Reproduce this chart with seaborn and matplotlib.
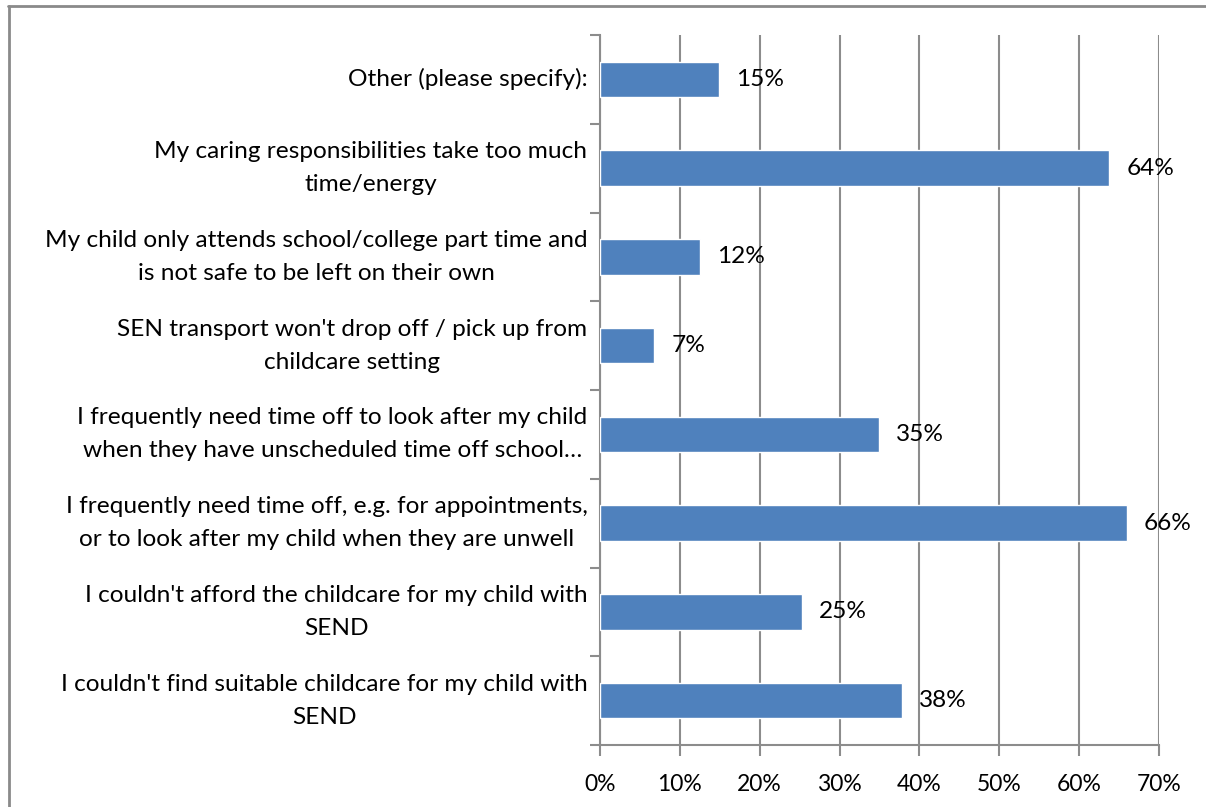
import matplotlib
matplotlib.use("Agg")
import matplotlib.pyplot as plt
from matplotlib.lines import Line2D
import seaborn as sns
import pandas as pd
import numpy as np

categories = [
    "Other (please specify):",
    "My caring responsibilities take too much\ntime/energy",
    "My child only attends school/college part time and\nis not safe to be left on their own",
    "SEN transport won't drop off / pick up from\nchildcare setting",
    "I frequently need time off to look after my child\nwhen they have unscheduled time off school…",
    "I frequently need time off, e.g. for appointments,\nor to look after my child when they are unwell",
    "I couldn't afford the childcare for my child with\nSEND",
    "I couldn't find suitable childcare for my child with\nSEND",
]
shares = [0.149, 0.638, 0.125, 0.068, 0.349, 0.660, 0.253, 0.378]
value_labels = ["15%", "64%", "12%", "7%", "35%", "66%", "25%", "38%"]
x_ticks = [0.0, 0.1, 0.2, 0.3, 0.4, 0.5, 0.6, 0.7]
x_tick_labels = ["0%", "10%", "20%", "30%", "40%", "50%", "60%", "70%"]

sns.set_theme(style="white")
plt.rcParams["font.family"] = ["Lato", "DejaVu Sans"]

bar_color = "#4F81BD"
grid_color = "#8C8C8C"
text_size = 17.6

df = pd.DataFrame({"reason": categories, "share": shares})

fig = plt.figure(figsize=(12.06, 8.07), dpi=100)
ax = fig.add_axes([600 / 1206, 1 - 745 / 807, 559 / 1206, 710 / 807])

sns.barplot(data=df, y="reason", x="share", orient="h", color=bar_color,
            saturation=1, width=0.4, ax=ax, zorder=3)

ax.set_xlim(0, 0.7)
ax.set_ylim(len(categories) - 0.5, -0.5)
ax.set_xticks(x_ticks)
ax.set_xticklabels(x_tick_labels, fontsize=16.5, color="black")
ax.set_xlabel("")
ax.set_ylabel("")

ax.set_yticks(range(len(categories)))
ax.set_yticklabels(categories, fontsize=text_size, color="black", linespacing=1.7)
for t in ax.get_yticklabels():
    t.set_multialignment("center")
    t.set_verticalalignment("center")
ax.set_yticks(np.arange(-0.5, len(categories), 1.0), minor=True)
ax.tick_params(axis="y", which="major", length=0, pad=9)
ax.tick_params(axis="y", which="minor", length=7, width=1.5, color=grid_color, left=True)
ax.tick_params(axis="x", which="major", length=8, width=1.5, color=grid_color,
               bottom=True, pad=13)

ax.xaxis.grid(True, color=grid_color, linewidth=1.5, zorder=0)
ax.yaxis.grid(False)
for side in ["top", "right"]:
    ax.spines[side].set_visible(False)
for side in ["left", "bottom"]:
    ax.spines[side].set_color(grid_color)
    ax.spines[side].set_linewidth(1.5)

for i, (v, lab) in enumerate(zip(shares, value_labels)):
    ax.annotate(lab, xy=(v, i), xytext=(17, 0), textcoords="offset pixels",
                ha="left", va="center", fontsize=text_size, color="black", zorder=4)

# outer frame lines (left and top)
fig.add_artist(Line2D([9 / 1206, 9 / 1206], [0, 1 - 6 / 807], transform=fig.transFigure,
                      color="#8A8A8A", linewidth=2))
fig.add_artist(Line2D([8 / 1206, 1], [1 - 6 / 807, 1 - 6 / 807], transform=fig.transFigure,
                      color="#8A8A8A", linewidth=2))

fig.savefig("out.png", dpi=100, facecolor="white")
